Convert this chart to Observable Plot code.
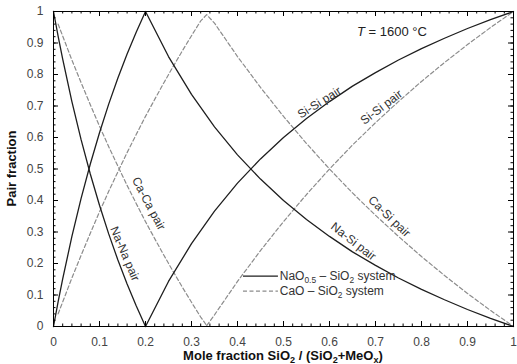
<!DOCTYPE html>
<html><head><meta charset="utf-8">
<script src="https://cdn.jsdelivr.net/npm/d3@7"></script>
<script src="https://cdn.jsdelivr.net/npm/@observablehq/plot@0.6"></script>
<style>
body{margin:0;background:#fff;}
#chart svg{font-family:"Liberation Sans",Arial,sans-serif;}
</style></head><body><div id="chart"></div>
<script>
// NaO0.5 – SiO2 system (solid)
const naX1 = [0,0.01,0.02,0.04,0.06,0.08,0.1,0.12,0.14,0.16,0.18,0.2];
const naNaPair = [1,0.922,0.849,0.714,0.593,0.484,0.385,0.294,0.211,0.135,0.065,0];
const naX = [0,0.01,0.02,0.04,0.06,0.08,0.1,0.12,0.14,0.16,0.18,0.2,0.25,0.3,0.35,0.4,0.45,0.5,0.55,0.6,0.65,0.7,0.75,0.8,0.85,0.9,0.95,1];
const naSiPair = [0,0.078,0.151,0.286,0.407,0.516,0.615,0.706,0.789,0.865,0.935,1,0.857,0.737,0.634,0.545,0.468,0.4,0.34,0.286,0.237,0.194,0.154,0.118,0.085,0.054,0.026,0];
const naX2 = [0.2,0.25,0.3,0.35,0.4,0.45,0.5,0.55,0.6,0.65,0.7,0.75,0.8,0.85,0.9,0.95,1];
const naSiSiPair = [0,0.143,0.263,0.366,0.455,0.532,0.6,0.66,0.714,0.763,0.806,0.846,0.882,0.915,0.946,0.974,1];
// CaO – SiO2 system (dashed)
const caX1 = [0.01,0.02,0.04,0.06,0.08,0.1,0.12,0.14,0.16,0.18,0.2,0.22,0.24,0.26,0.28,0.3,0.32,0.333];
const caCaPair = [0.96,0.922,0.846,0.774,0.704,0.636,0.571,0.509,0.448,0.39,0.333,0.279,0.226,0.175,0.125,0.077,0.03,0.003];
const caX = [0.01,0.02,0.04,0.06,0.08,0.1,0.12,0.14,0.16,0.18,0.2,0.22,0.24,0.26,0.28,0.3,0.32,0.333,0.35,0.4,0.45,0.5,0.55,0.6,0.65,0.7,0.75,0.8,0.85,0.9,0.95,1];
const caSiPair = [0.04,0.078,0.154,0.226,0.296,0.364,0.429,0.491,0.552,0.61,0.667,0.721,0.774,0.825,0.875,0.923,0.97,0.99,0.963,0.857,0.759,0.667,0.581,0.5,0.424,0.353,0.286,0.222,0.162,0.105,0.051,0];
const caX2 = [0.333,0.35,0.4,0.45,0.5,0.55,0.6,0.65,0.7,0.75,0.8,0.85,0.9,0.95,1];
const caSiSiPair = [0.003,0.037,0.143,0.241,0.333,0.419,0.5,0.576,0.647,0.714,0.778,0.838,0.895,0.949,1];

const xTicks = [0,0.1,0.2,0.3,0.4,0.5,0.6,0.7,0.8,0.9,1];
const xTickLabels = ["0","0.1","0.2","0.3","0.4","0.5","0.6","0.7","0.8","0.9","1"];
const yTicks = [0,0.1,0.2,0.3,0.4,0.5,0.6,0.7,0.8,0.9,1];
const yTickLabels = ["0","0.1","0.2","0.3","0.4","0.5","0.6","0.7","0.8","0.9","1"];

const curveLabels = [
  {label:"Si-Si pair", x:0.578, y:0.711, angle:-32},
  {label:"Si-Si pair", x:0.713, y:0.696, angle:-37},
  {label:"Ca-Si pair", x:0.730, y:0.349, angle:44},
  {label:"Na-Si pair", x:0.652, y:0.270, angle:38},
  {label:"Ca-Ca pair", x:0.207, y:0.390, angle:62},
  {label:"Na-Na pair", x:0.155, y:0.231, angle:67}
];

const rows = (xs, ys, series) => xs.map((x, i) => ({x, y: ys[i], series}));
const solid = [...rows(naX1, naNaPair, "NaNa"), ...rows(naX, naSiPair, "NaSi"), ...rows(naX2, naSiSiPair, "SiSi")];
const dashed = [...rows(caX1, caCaPair, "CaCa"), ...rows(caX, caSiPair, "CaSi"), ...rows(caX2, caSiSiPair, "SiSi")];

const W = 517, H = 364, mL = 53, mR = 4, mT = 11, mB = 38;
const ph = H - mT - mB, pw = W - mL - mR;
const minorX = d3.range(0, 51).map(i => i / 50);
const minorY = d3.range(0, 51).map(i => i / 50);

const plot = Plot.plot({
  width: W, height: H,
  marginLeft: mL, marginRight: mR, marginTop: mT, marginBottom: mB,
  style: {fontFamily: "Liberation Sans, Arial, sans-serif", fontSize: "12px", background: "#fff"},
  x: {domain: [0, 1]},
  y: {domain: [0, 1]},
  marks: [
    Plot.line(dashed, {x: "x", y: "y", z: "series", stroke: "#8c8c8c", strokeWidth: 1.2, strokeDasharray: "4,2.5"}),
    Plot.line(solid, {x: "x", y: "y", z: "series", stroke: "#1e1e1e", strokeWidth: 1.3}),
    Plot.text(curveLabels, {x: "x", y: "y", text: "label", rotate: "angle", fontSize: 12, fill: "#333"}),
    // ticks (inward on all four sides)
    Plot.tickX(xTicks, {x: d => d, insetTop: ph - 5, stroke: "#000"}),
    Plot.tickX(xTicks, {x: d => d, insetBottom: ph - 5, stroke: "#000"}),
    Plot.tickX(minorX, {x: d => d, insetTop: ph - 2.5, stroke: "#000"}),
    Plot.tickX(minorX, {x: d => d, insetBottom: ph - 2.5, stroke: "#000"}),
    Plot.tickY(yTicks, {y: d => d, insetRight: pw - 5, stroke: "#000"}),
    Plot.tickY(yTicks, {y: d => d, insetLeft: pw - 5, stroke: "#000"}),
    Plot.tickY(minorY, {y: d => d, insetRight: pw - 2.5, stroke: "#000"}),
    Plot.tickY(minorY, {y: d => d, insetLeft: pw - 2.5, stroke: "#000"}),
    Plot.axisX(xTicks, {tickSize: 0, tickPadding: 11, tickFormat: d => xTickLabels[xTicks.indexOf(d)], label: null, fill: "#444", fontSize: 12}),
    Plot.axisY(yTicks, {tickSize: 0, tickPadding: 10, tickFormat: d => yTickLabels[yTicks.indexOf(d)], label: null, fill: "#444", fontSize: 12}),
    // legend lines
    Plot.ruleY([0.16], {x1: 0.413, x2: 0.489, stroke: "#1e1e1e", strokeWidth: 1.3}),
    Plot.ruleY([0.112], {x1: 0.413, x2: 0.489, stroke: "#8c8c8c", strokeWidth: 1.2, strokeDasharray: "4,2.5"}),
    Plot.frame({stroke: "#000", strokeWidth: 1})
  ]
});

document.getElementById("chart").appendChild(plot);
const svg = d3.select(plot);
const sx = plot.scale("x"), sy = plot.scale("y");

function rich(x, y, parts, attrs) {
  const t = svg.append("text").attr("x", x).attr("y", y).attr("text-anchor", "start");
  for (const [k, v] of Object.entries(attrs || {})) t.attr(k, v);
  let shifted = false;
  for (const p of parts) {
    const s = t.append("tspan").text(p.t);
    if (p.sub && !shifted) { s.attr("dy", 3).attr("font-size", "0.7em"); shifted = true; }
    else if (p.sub) { s.attr("font-size", "0.7em"); }
    else if (shifted) { s.attr("dy", -3); shifted = false; }
    if (p.italic) s.attr("font-style", "italic");
  }
  return t;
}

// x-axis title
rich(sx.apply(0.5), 360, [
  {t: "Mole fraction SiO"}, {t: "2", sub: true}, {t: " / (SiO"}, {t: "2", sub: true}, {t: "+MeO"}, {t: "x", sub: true}, {t: ")"}
], {"text-anchor": "middle", "font-weight": "bold", "font-size": 13, fill: "#111"});

// y-axis title
svg.append("text")
  .attr("transform", `translate(13,${(sy.apply(0) + sy.apply(1)) / 2}) rotate(-90)`)
  .attr("text-anchor", "middle").attr("dominant-baseline", "middle")
  .attr("font-weight", "bold").attr("font-size", 13).attr("fill", "#111")
  .text("Pair fraction");

// temperature annotation
rich(sx.apply(0.661), sy.apply(0.935) + 4.5, [
  {t: "T", italic: true}, {t: " = 1600 °C"}
], {"font-size": 13, fill: "#222"});

// legend text
rich(sx.apply(0.493), sy.apply(0.16) + 4, [
  {t: "NaO"}, {t: "0.5", sub: true}, {t: " – SiO"}, {t: "2", sub: true}, {t: " system"}
], {"font-size": 12, fill: "#333"});
rich(sx.apply(0.493), sy.apply(0.112) + 4, [
  {t: "CaO – SiO"}, {t: "2", sub: true}, {t: " system"}
], {"font-size": 12, fill: "#333"});
</script></body></html>
